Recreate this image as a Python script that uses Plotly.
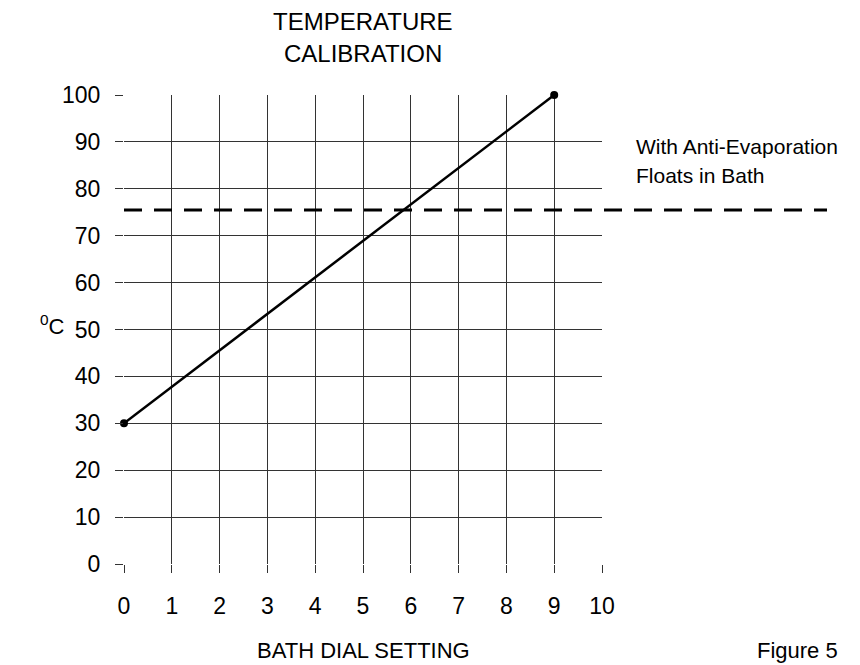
import plotly.graph_objects as go

# Data
dial_setting = [0, 9]
temperature_c = [30, 100]
float_temp_c = 75.5          # dashed reference level
x_ticks = list(range(0, 11))
y_ticks = list(range(0, 101, 10))

FONT = "Liberation Sans, Arial, sans-serif"
OFF = 8                      # page body margin
W, H = 860, 665
L, R, T, B = 116, 266, 87, 109
pw, ph = W - L - R, H - T - B

def px(x):                   # screen px -> paper
    return (x - OFF - L) / pw

def py(y):
    return (H - B - (y - OFF)) / ph

fig = go.Figure()
fig.add_trace(go.Scatter(
    x=dial_setting, y=temperature_c, mode="lines+markers",
    line=dict(color="black", width=2.5),
    marker=dict(color="black", size=8),
    cliponaxis=False, showlegend=False, hoverinfo="skip",
))

# dashed line extending beyond plot area
fig.add_shape(type="line", xref="paper", yref="paper",
              x0=0, x1=px(827), y0=float_temp_c / 100, y1=float_temp_c / 100,
              line=dict(color="black", width=3, dash="18px,12px"))

def txt(s, x, y, size, anchor="center"):
    fig.add_annotation(text=s, xref="paper", yref="paper", x=x, y=y,
                       xanchor=anchor, yanchor="middle", showarrow=False,
                       font=dict(family=FONT, size=size, color="black"))

txt("TEMPERATURE", 0.5, py(21), 24)
txt("CALIBRATION", 0.5, py(54), 24)
txt("BATH DIAL SETTING", 0.5, py(650), 22)
txt("Figure 5", px(797), py(650), 22)
txt("<sup>0</sup>C", px(52), py(325), 22)
txt("With Anti-Evaporation", px(634), py(146), 21, "left")
txt("Floats in Bath", px(634), py(175), 21, "left")

axis_common = dict(
    showgrid=True, gridcolor="#333", gridwidth=1,
    zeroline=False, showline=False,
    ticks="outside", ticklen=8, tickcolor="#333", tickwidth=1,
    tickfont=dict(family=FONT, size=23, color="black"),
    fixedrange=True,
)
fig.update_xaxes(range=[0, 10], tickvals=x_ticks, ticklabelstandoff=13, **axis_common)
fig.update_yaxes(range=[0, 100], tickvals=y_ticks, ticklabelstandoff=10, **axis_common)

fig.update_layout(
    width=W, height=H,
    margin=dict(l=L, r=R, t=T, b=B),
    paper_bgcolor="white", plot_bgcolor="white",
    font=dict(family=FONT, color="black"),
    showlegend=False,
)
fig.write_html("out.html")
